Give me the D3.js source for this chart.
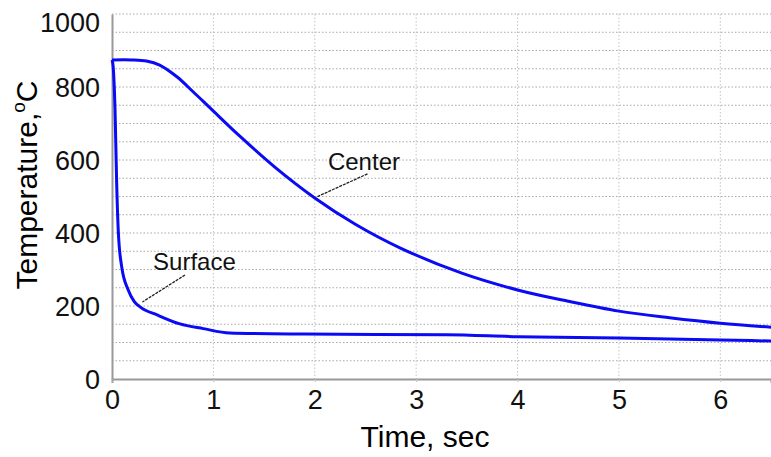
<!DOCTYPE html>
<html>
<head>
<meta charset="utf-8">
<script src="https://cdn.jsdelivr.net/npm/d3@7"></script>
<style>
  body { margin: 0; background: #fff; }
  svg { display: block; font-family: "Liberation Sans", Arial, sans-serif; }
</style>
</head>
<body>
<div id="chart"></div>
<script>
// --- data ---
const centerTime = [0, 0.2, 0.34, 0.47, 0.64, 0.8, 0.97, 1.25, 1.6, 2.0, 2.4, 2.85, 3.45, 4.0, 4.5, 5.0, 5.5, 6.0, 6.5];
const centerTemp = [874, 874, 871, 860, 828, 787, 742, 668, 582, 496, 424, 358, 290, 244, 213, 186, 168, 153, 142];

const surfaceTime = [0, 0.01, 0.03, 0.046, 0.063, 0.096, 0.16, 0.22, 0.28, 0.45, 0.67, 0.9, 1.16, 1.9, 3.3, 4.0, 5.0, 6.0, 6.5];
const surfaceTemp = [874, 860, 737, 537, 400, 307, 244, 212, 197, 175, 151, 138, 126, 123, 121, 116, 112, 107, 104];

const xTicks = [0, 1, 2, 3, 4, 5, 6];
const yTicks = [0, 200, 400, 600, 800, 1000];

// annotation: label text, text anchor (t, T), leader from / to (t, T)
const labelNames = ["Center", "Surface"];
const labelPos = [[2.13, 573], [0.405, 299]];
const leaderFrom = [[2.52, 562], [0.72, 285]];
const leaderTo = [[2.02, 499], [0.30, 211]];

// --- size ---
const W = 771, H = 457;
const margin = { top: 14, right: 0, bottom: 78, left: 112 };
const width = W - margin.left - margin.right;
const height = H - margin.top - margin.bottom;

const svg = d3.select("#chart").append("svg")
  .attr("width", W)
  .attr("height", H);

const g = svg.append("g")
  .attr("transform", `translate(${margin.left},${margin.top})`);

const x = d3.scaleLinear().domain([0, 6.5]).range([0, width]);
const y = d3.scaleLinear().domain([0, 1000]).range([height, 0]);

// grid (dotted)
g.append("g")
  .selectAll("line")
  .data(d3.range(50, 1001, 50))
  .join("line")
  .attr("x1", 0).attr("x2", width)
  .attr("y1", d => y(d)).attr("y2", d => y(d))
  .attr("stroke", "#a8a8a8")
  .attr("stroke-width", 1)
  .attr("stroke-dasharray", "1.5,2");

g.append("g")
  .selectAll("line")
  .data(xTicks.slice(1))
  .join("line")
  .attr("x1", d => x(d)).attr("x2", d => x(d))
  .attr("y1", 0).attr("y2", height)
  .attr("stroke", "#c4c4c4")
  .attr("stroke-width", 1)
  .attr("stroke-dasharray", "1.5,2");

// axes
const xAxis = g.append("g")
  .attr("transform", `translate(0,${height})`)
  .call(d3.axisBottom(x).tickValues(xTicks).tickSize(4).tickPadding(6).tickFormat(d3.format("d")));
xAxis.select(".domain").attr("stroke", "#999").attr("stroke-width", 2);
xAxis.selectAll(".tick line").attr("stroke", "#bbb").attr("stroke-dasharray", "1,1");
xAxis.selectAll(".tick text")
  .attr("font-size", 27)
  .attr("fill", "#111")
  .attr("dy", "0.73em");

const yAxis = g.append("g")
  .call(d3.axisLeft(y).tickValues(yTicks).tickSize(0).tickPadding(12).tickFormat(d3.format("d")));
yAxis.select(".domain").attr("stroke", "#999").attr("stroke-width", 2);
yAxis.selectAll(".tick text")
  .attr("font-size", 27)
  .attr("fill", "#111")
  .attr("dy", d => d === 1000 ? "0.66em" : "0.36em");

// axis titles
svg.append("text")
  .attr("x", 425)
  .attr("y", 447)
  .attr("text-anchor", "middle")
  .attr("font-size", 30)
  .attr("fill", "#000")
  .text("Time, sec");

const yTitle = svg.append("text")
  .attr("transform", "translate(37,185) rotate(-90)")
  .attr("text-anchor", "middle")
  .attr("font-size", 30)
  .attr("fill", "#000");
yTitle.append("tspan").text("Temperature,");
yTitle.append("tspan").attr("font-size", 19).attr("dy", -12).text("o");
yTitle.append("tspan").attr("dy", 12).text("C");

// curves: center is smooth, surface keeps its knee
const centerLine = d3.line()
  .x(d => x(d[0]))
  .y(d => y(d[1]))
  .curve(d3.curveCatmullRom.alpha(0.5));

const surfaceLine = d3.line()
  .x(d => x(d[0]))
  .y(d => y(d[1]))
  .curve(d3.curveMonotoneX);

g.append("path")
  .datum(d3.zip(centerTime, centerTemp))
  .attr("class", "curve")
  .attr("d", centerLine)
  .attr("fill", "none")
  .attr("stroke", "#0a0af5")
  .attr("stroke-width", 3)
  .attr("stroke-linejoin", "round");

g.append("path")
  .datum(d3.zip(surfaceTime, surfaceTemp))
  .attr("class", "curve")
  .attr("d", surfaceLine)
  .attr("fill", "none")
  .attr("stroke", "#0a0af5")
  .attr("stroke-width", 3)
  .attr("stroke-linejoin", "round");

// annotations
labelNames.forEach((name, i) => {
  g.append("line")
    .attr("x1", x(leaderFrom[i][0])).attr("y1", y(leaderFrom[i][1]))
    .attr("x2", x(leaderTo[i][0])).attr("y2", y(leaderTo[i][1]))
    .attr("stroke", "#222")
    .attr("stroke-width", 1.3)
    .attr("stroke-dasharray", "3,1");
  g.append("text")
    .attr("x", x(labelPos[i][0]))
    .attr("y", y(labelPos[i][1]))
    .attr("font-size", 24)
    .attr("fill", "#111")
    .text(name);
});
</script>
</body>
</html>
